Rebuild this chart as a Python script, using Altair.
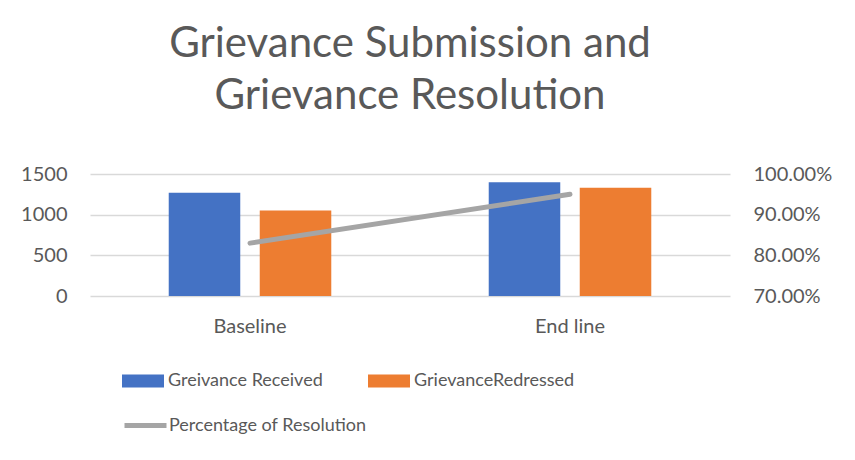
import altair as alt
import pandas as pd

categories = ["Baseline", "End line"]
received = [1270, 1400]
redressed = [1050, 1330]
resolution_pct = [0.83, 0.95]
series_names = ["Greivance Received", "GrievanceRedressed"]
line_name = "Percentage of Resolution"
bar_colors = ["#4472C4", "#ED7D31"]
line_color = "#A5A5A5"

bars_df = pd.DataFrame({
    "category": categories * 2,
    "series": [series_names[0]] * 2 + [series_names[1]] * 2,
    "value": received + redressed,
})
line_df = pd.DataFrame({
    "category": categories,
    "pct": resolution_pct,
    "series": [line_name] * 2,
})

FONT = "Lato"
TXT = "#595959"

x_enc = alt.X(
    "category:N", sort=categories,
    scale=alt.Scale(paddingInner=0, paddingOuter=0),
    axis=alt.Axis(title=None, labelAngle=0, domain=False, ticks=False,
                  labelPadding=20, labelFontSize=20, labelColor=TXT, labelFont=FONT),
)

bars = alt.Chart(bars_df).mark_bar().encode(
    x=x_enc,
    xOffset=alt.XOffset("series:N", sort=series_names,
                        scale=alt.Scale(paddingInner=0.214, paddingOuter=0.865)),
    y=alt.Y("value:Q", scale=alt.Scale(domain=[0, 1500], nice=False),
            axis=alt.Axis(values=[0, 500, 1000, 1500], format="d", title=None,
                          domain=False, ticks=False,
                          grid=True, gridColor="#D9D9D9", gridWidth=1.3,
                          labelPadding=23, labelFontSize=20, labelColor=TXT, labelFont=FONT)),
    fill=alt.Fill("series:N",
                  scale=alt.Scale(domain=series_names, range=bar_colors),
                  legend=alt.Legend(title=None, orient="none", legendX=32, legendY=186,
                                    direction="horizontal", columns=2, columnPadding=45,
                                    symbolType="M-1,-0.31H1V0.31H-1Z", symbolSize=1764,
                                    symbolStrokeWidth=0, labelOffset=4, padding=0,
                                    labelLimit=0,
                                    labelFontSize=18, labelFont=FONT, labelColor=TXT)),
)

line = alt.Chart(line_df).mark_line(strokeWidth=5, strokeCap="round").encode(
    x=x_enc,
    y=alt.Y("pct:Q", scale=alt.Scale(domain=[0.7, 1.0], nice=False),
            axis=alt.Axis(orient="right", values=[0.7, 0.8, 0.9, 1.0], format=".2%",
                          title=None, domain=False, ticks=False, grid=False,
                          labelPadding=23, labelFontSize=20, labelColor=TXT, labelFont=FONT)),
    stroke=alt.Stroke("series:N",
                      scale=alt.Scale(domain=[line_name], range=[line_color]),
                      legend=alt.Legend(title=None, orient="none", legendX=32, legendY=228,
                                        symbolType="stroke", symbolSize=1764,
                                        symbolStrokeWidth=5, labelOffset=0, padding=0,
                                        labelLimit=0,
                                        labelFontSize=18, labelFont=FONT, labelColor=TXT)),
)

chart = alt.layer(bars, line).resolve_scale(y="independent", x="shared").properties(
    width=640, height=122,
    background="white",
    autosize=alt.AutoSizeParams(type="none"),
    padding={"left": 82, "top": 166, "right": 117, "bottom": 156},
    title=alt.TitleParams(["Grievance Submission and", "Grievance Resolution"],
                          fontSize=42, font=FONT, color=TXT, fontWeight="normal",
                          lineHeight=52, anchor="middle", offset=46),
).configure_view(stroke=None)

chart.save("out.html", embed_options={"renderer": "svg", "actions": False})
